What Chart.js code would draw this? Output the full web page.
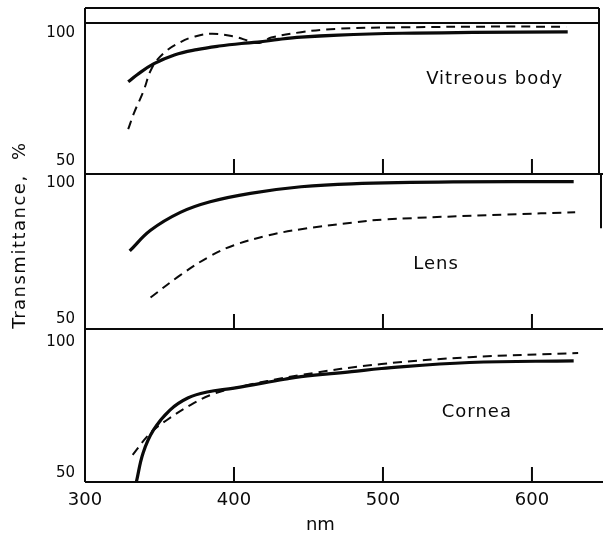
<!DOCTYPE html>
<html>
<head>
<meta charset="utf-8">
<script src="https://cdn.jsdelivr.net/npm/chart.js@4.4.0/dist/chart.umd.min.js"></script>
<style>
  html, body { margin: 0; padding: 0; background: #fff; }
  #wrap { width: 603px; height: 538px; }
</style>
</head>
<body>
<div id="wrap"><canvas id="chart" width="603" height="538"></canvas></div>
<script>
// =======================
// DATOS (transmitancia %, longitud de onda nm)
// =======================

const vitreousNm = [329, 335, 346, 360, 375, 390, 405, 416, 430, 445, 470, 513, 560, 624];
const vitreousSolid = [81, 83.8, 88, 91.5, 93.6, 95, 96, 96.5, 97.6, 98.5, 99.3, 100, 100.3, 100.5];
const vitreousDashNm = [329, 333, 339, 345, 353, 364, 373, 385, 400, 411, 417, 425, 445, 468, 513, 580, 623];
const vitreousDash = [62.5, 69, 77, 86.5, 92.3, 96.5, 98.6, 99.8, 98.7, 96.8, 96.2, 98.3, 100.4, 101.7, 102.3, 102.6, 102.5];

const lensNm = [330, 344, 364, 384, 411, 445, 479, 547, 628];
const lensSolid = [75.2, 82.8, 89.4, 93.3, 96.4, 98.8, 99.9, 100.6, 100.7];
const lensDashNm = [344, 364, 384, 400, 423, 445, 479, 502, 583, 629];
const lensDash = [58.1, 66.3, 73.3, 77.3, 80.9, 83.2, 85.6, 86.8, 88.6, 89.4];

const corneaNm = [334.5, 339, 346, 357, 369, 382, 400, 434, 445, 479, 499, 558, 628];
const corneaSolid = [46.6, 57.6, 66.4, 74, 78.6, 80.9, 82.4, 85.8, 86.8, 88.7, 89.9, 92.2, 92.8];
const corneaDashNm = [332, 344, 355, 371, 384.5, 400, 445, 499, 558, 631];
const corneaDash = [56.9, 65.3, 70.2, 76, 79.8, 82.4, 87.4, 91.6, 94.2, 95.8];

const xTicks = [300, 400, 500, 600];
const yTicks = [50, 100];
const panelNames = ['Vitreous body', 'Lens', 'Cornea'];

// =======================
// HELPERS
// =======================

const FONT = '"DejaVu Sans", sans-serif';

function puntos(xs, ys) {
  return xs.map((x, i) => ({ x: x, y: ys[i] }));
}

function serie(xs, ys, eje, dashed) {
  return {
    data: puntos(xs, ys),
    yAxisID: eje,
    borderColor: '#0a0a0a',
    borderWidth: dashed ? 2 : 3.2,
    borderDash: dashed ? [9, 6] : [],
    pointRadius: 0,
    fill: false,
    tension: 0.4
  };
}

function ejeY(min, max, stackWeight, weight) {
  return {
    type: 'linear',
    position: 'left',
    stack: 'panels',
    stackWeight: stackWeight,
    weight: weight,
    min: min,
    max: max,
    afterBuildTicks: scale => { scale.ticks = yTicks.map(v => ({ value: v })); },
    afterFit: scale => { scale.width = 85; },
    grid: { display: false, drawTicks: false },
    border: { display: false },
    ticks: { color: '#0a0a0a', padding: 10, font: { family: FONT, size: 15 } }
  };
}

// marco, marcas interiores y textos de cada panel
const marco = {
  id: 'marco',
  afterDraw(chart) {
    const { ctx, chartArea, scales } = chart;
    const x = scales.x;
    const paneles = [scales.yTop, scales.yMid, scales.yBot];
    const left = chartArea.left, right = chartArea.right;
    const band = chartArea.top - 15;

    ctx.save();
    ctx.strokeStyle = '#0a0a0a';
    ctx.lineWidth = 2;
    ctx.beginPath();
    // banda superior y borde izquierdo
    ctx.moveTo(left, band); ctx.lineTo(right, band);
    ctx.moveTo(left, chartArea.top); ctx.lineTo(right, chartArea.top);
    ctx.moveTo(left, band); ctx.lineTo(left, chartArea.bottom);
    // borde derecho del panel superior y parte del medio
    ctx.moveTo(right, band); ctx.lineTo(right, scales.yTop.bottom);
    ctx.moveTo(right + 2, scales.yMid.top); ctx.lineTo(right + 2, scales.yMid.top + scales.yMid.height * 0.35);
    paneles.forEach(s => {
      ctx.moveTo(left, s.bottom); ctx.lineTo(chart.width, s.bottom);
      xTicks.slice(1).forEach(v => {
        const px = x.getPixelForValue(v);
        ctx.moveTo(px, s.bottom); ctx.lineTo(px, s.bottom - 15);
      });
    });
    ctx.stroke();

    ctx.fillStyle = '#0a0a0a';
    ctx.textAlign = 'center';
    ctx.textBaseline = 'middle';
    ctx.font = '18px ' + FONT;
    ctx.letterSpacing = '1px';
    ctx.fillText(panelNames[0], x.getPixelForValue(575), scales.yTop.getPixelForValue(82));
    ctx.fillText(panelNames[1], x.getPixelForValue(535.6), scales.yMid.getPixelForValue(70.4));
    ctx.fillText(panelNames[2], x.getPixelForValue(563), scales.yBot.getPixelForValue(73.3));

    ctx.letterSpacing = '0px';
    ctx.fillText('nm', x.getPixelForValue(458), chartArea.bottom + 43);

    ctx.translate(20, scales.yTop.bottom + 61);
    ctx.rotate(-Math.PI / 2);
    ctx.letterSpacing = '1.5px';
    ctx.fillText('Transmittance,  %', 0, 0);
    ctx.restore();
  }
};

// =======================
// GRÁFICA
// =======================

const ctx = document.getElementById('chart').getContext('2d');
new Chart(ctx, {
  type: 'line',
  data: {
    datasets: [
      serie(vitreousNm, vitreousSolid, 'yTop', false),
      serie(vitreousDashNm, vitreousDash, 'yTop', true),
      serie(lensNm, lensSolid, 'yMid', false),
      serie(lensDashNm, lensDash, 'yMid', true),
      serie(corneaNm, corneaSolid, 'yBot', false),
      serie(corneaDashNm, corneaDash, 'yBot', true)
    ]
  },
  options: {
    responsive: false,
    animation: false,
    layout: { padding: { left: 0, top: 23, right: 4, bottom: 0 } },
    plugins: { legend: { display: false }, tooltip: { enabled: false } },
    scales: {
      x: {
        type: 'linear',
        min: 300,
        max: 645,
        afterBuildTicks: scale => { scale.ticks = xTicks.map(v => ({ value: v })); },
        afterFit: scale => { scale.height = 56; },
        grid: { display: false, drawTicks: false },
        border: { display: false },
        ticks: { color: '#0a0a0a', padding: 8, font: { family: FONT, size: 18 } }
      },
      yBot: ejeY(46.5, 105, 153, 1),
      yMid: ejeY(46.5, 103.5, 155, 2),
      yTop: ejeY(45, 104, 151, 3)
    }
  },
  plugins: [marco]
});
</script>
</body>
</html>
